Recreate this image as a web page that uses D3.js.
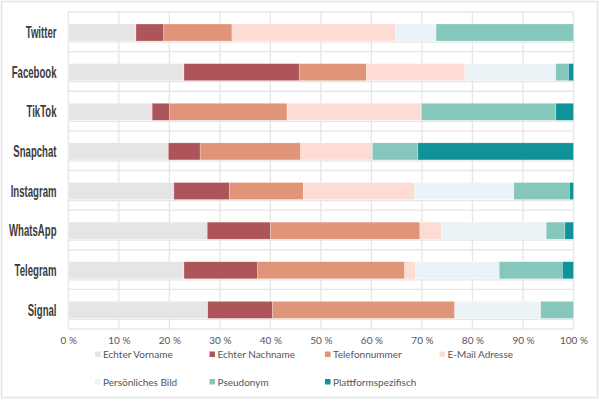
<!DOCTYPE html>
<html><head><meta charset="utf-8">
<script src="https://cdn.jsdelivr.net/npm/d3@7"></script>
<style>body{margin:0;background:#fff;} svg{display:block;}</style>
</head><body>
<svg id="c" width="600" height="401"></svg>
<script>
const categories = ["Twitter","Facebook","TikTok","Snapchat","Instagram","WhatsApp","Telegram","Signal"];
const seriesNames = ["Echter Vorname","Echter Nachname","Telefonnummer","E-Mail Adresse","Persönliches Bild","Pseudonym","Plattformspezifisch"];
const seriesColors = ["#e5e5e5","#ae555a","#e09578","#fdddd3","#ebf3f7","#85c6bd","#0f9298"];
const vorname     = [13.4, 22.9, 16.6, 19.8, 20.9, 27.5, 22.9, 27.6];
const nachname    = [ 5.5, 22.9,  3.4,  6.3, 11.0, 12.5, 14.6, 12.8];
const telefon     = [13.5, 13.2, 23.3, 19.9, 14.6, 29.6, 29.1, 36.1];
const email       = [32.4, 19.5, 26.6, 14.2, 22.0,  4.3,  2.1,  0.0];
const bild        = [ 8.0, 18.0,  0.0,  0.0, 19.7, 20.7, 16.6, 17.0];
const pseudonym   = [27.2,  2.5, 26.6,  9.0, 11.0,  3.7, 12.5,  6.5];
const plattform   = [ 0.0,  1.0,  3.5, 30.8,  0.8,  1.7,  2.2,  0.0];
const tickValues  = [0,10,20,30,40,50,60,70,80,90,100];
const tickLabels  = ["0 %","10 %","20 %","30 %","40 %","50 %","60 %","70 %","80 %","90 %","100 %"];

const seriesValues = [vorname, nachname, telefon, email, bild, pseudonym, plattform];
const rows = categories.map((c,i)=>{ const r={cat:c}; seriesNames.forEach((s,j)=>r[s]=seriesValues[j][i]); return r; });
const stack = d3.stack().keys(seriesNames)(rows);

const svg = d3.select("#c");
svg.append("rect").attr("x",1.5).attr("y",1.5).attr("width",596).attr("height",396)
  .attr("fill","#fff").attr("stroke","#e4e4e4").attr("stroke-width",1.5);

const x = d3.scaleLinear().domain([0,100]).range([68.3,573.5]);
const y = d3.scaleBand().domain(categories).range([12,329]).padding(0);
const bw = y.bandwidth();
const barOff = bw*0.303, barH = bw*0.43;

const grid = svg.append("g").attr("stroke","#e6e6e6").attr("stroke-width",1.3);
tickValues.forEach(v=>grid.append("line").attr("x1",x(v)).attr("x2",x(v)).attr("y1",12).attr("y2",329));
categories.forEach(c=>{
  grid.append("line").attr("x1",x(0)).attr("x2",x(100)).attr("y1",y(c)).attr("y2",y(c));
  grid.append("line").attr("x1",x(0)).attr("x2",x(100)).attr("y1",y(c)+barOff+barH+1).attr("y2",y(c)+barOff+barH+1);
});
grid.append("line").attr("x1",x(0)).attr("x2",x(100)).attr("y1",329).attr("y2",329);

svg.append("g").selectAll("g").data(stack).join("g")
  .attr("fill",(d,i)=>seriesColors[i])
  .selectAll("rect").data(d=>d).join("rect")
  .attr("x",d=>x(d[0])).attr("width",d=>Math.max(0,x(d[1])-x(d[0])))
  .attr("y",d=>y(d.data.cat)+barOff).attr("height",barH)
  .attr("stroke",d=>x(d[1])-x(d[0])>0?"rgba(255,255,255,0.5)":"none").attr("stroke-width",0.5);

svg.append("g").selectAll("text").data(categories).join("text")
  .attr("transform",c=>`translate(56.5,${y(c)+barOff+barH/2+5.6}) scale(0.6,1)`)
  .attr("text-anchor","end").attr("font-family","Liberation Sans Narrow, Arial Narrow, sans-serif")
  .attr("font-weight","bold").attr("font-size",16).attr("fill","#3b3b3b").text(c=>c);

const xAxis = d3.axisBottom(x).tickValues(tickValues).tickFormat((d,i)=>tickLabels[i]).tickSize(0).tickPadding(0);
const ax = svg.append("g").attr("transform","translate(0,337)").call(xAxis);
ax.select(".domain").remove();
ax.selectAll("text").attr("font-family","Lato, sans-serif").attr("font-size",10).attr("fill","#555");

const legX = [95,209.5,325,439.5], legY=[351.5,379];
const leg = svg.append("g").selectAll("g").data(seriesNames).join("g")
  .attr("transform",(d,i)=>`translate(${legX[i%4]},${legY[Math.floor(i/4)]})`);
leg.append("rect").attr("width",5.5).attr("height",5.5).attr("fill",(d,i)=>seriesColors[i]);
leg.append("text").attr("x",8).attr("y",6.5).attr("font-family","Lato, sans-serif").attr("font-size",10)
  .attr("fill","#555").text(d=>d);
</script>
</body></html>
